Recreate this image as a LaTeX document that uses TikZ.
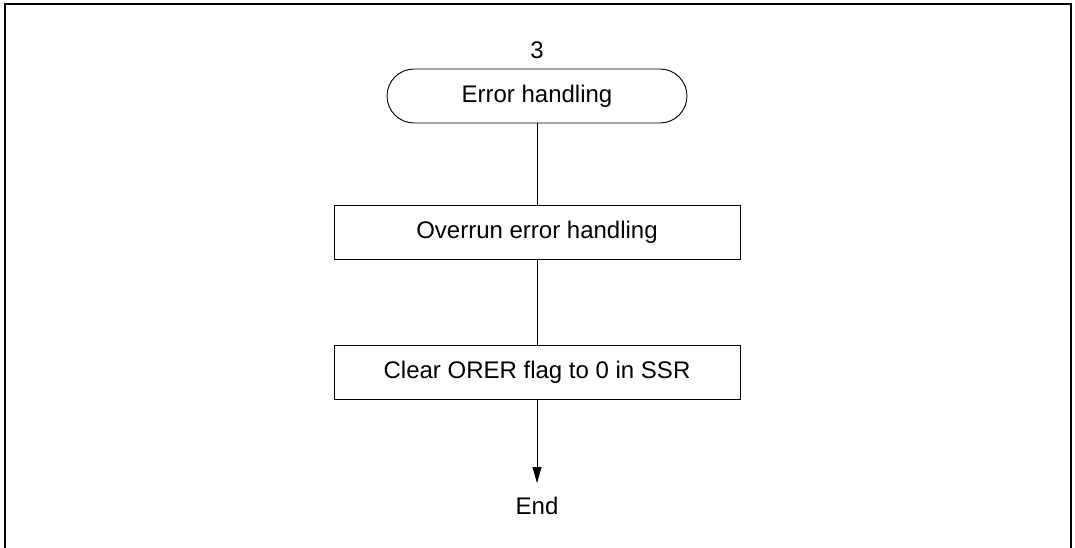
\documentclass[tikz,border=0pt]{standalone}
\usepackage{fontspec}
\setmainfont{Liberation Sans}
\usetikzlibrary{arrows.meta}
\begin{document}
\begin{tikzpicture}[x=1pt, y=-1pt,
    font=\fontsize{24}{28}\selectfont,
    terminal/.style={draw, line width=0.9pt, rounded corners=27pt,
      minimum width=300pt, minimum height=54pt, inner sep=0pt},
    procbox/.style={draw, line width=0.9pt, minimum width=406pt,
      minimum height=54pt, inner sep=0pt},
    flow/.style={line width=0.9pt}]
    \useasboundingbox (0,0) rectangle (1075,548);
    \draw[line width=2pt] (5,549) -- (5,4.5) -- (1071,4.5) -- (1071,549);
    \node (num) at (537,50) {3};
    \node[terminal] (err) at (537,96) {Error handling};
    \node[procbox] (overrun) at (537,232) {Overrun error handling};
    \node[procbox] (clear) at (537,372) {Clear ORER flag to 0 in SSR};
    \node[anchor=north, inner sep=0pt] (end) at (537,497) {End};
    \draw[flow] (err) -- (overrun);
    \draw[flow] (overrun) -- (clear);
    \draw[flow, -{Triangle[length=16pt, width=9pt]}, shorten >=14pt] (clear) -- (end);
\end{tikzpicture}
\end{document}
